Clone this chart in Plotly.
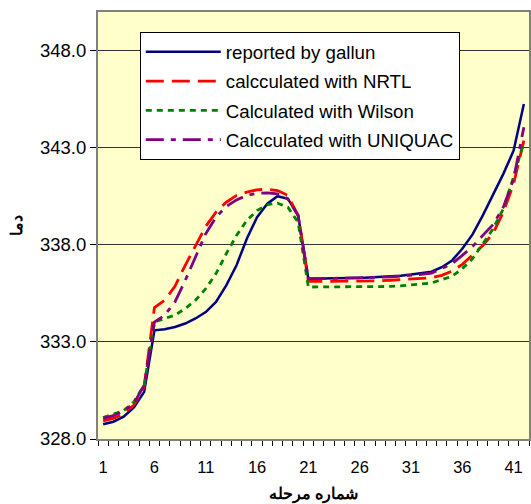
import plotly.graph_objects as go

stages = list(range(1, 43))

reported_gallun = [328.76, 328.89, 329.15, 329.63, 330.43, 333.60, 333.66, 333.77, 333.95, 334.21,
                   334.54, 335.06, 335.92, 336.95, 338.32, 339.43, 340.12, 340.51, 340.38, 339.52,
                   336.26, 336.26, 336.27, 336.28, 336.29, 336.30, 336.32, 336.34, 336.37, 336.41,
                   336.47, 336.55, 336.62, 336.85, 337.20, 337.80, 338.54, 339.52, 340.55, 341.66,
                   342.86, 345.26]

nrtl = [328.94, 329.06, 329.29, 329.75, 330.69, 334.77, 335.15, 335.87, 336.95, 337.97,
        338.95, 339.69, 340.20, 340.55, 340.72, 340.84, 340.87, 340.80, 340.55, 339.52,
        336.12, 336.12, 336.12, 336.13, 336.13, 336.14, 336.14, 336.15, 336.18, 336.21,
        336.24, 336.27, 336.31, 336.43, 336.65, 337.00, 337.46, 337.97, 338.60, 339.69,
        341.15, 343.37]

wilson = [329.11, 329.27, 329.46, 329.92, 330.78, 334.03, 334.21, 334.38, 334.72, 335.15,
          335.75, 336.52, 337.55, 338.49, 339.26, 339.77, 340.07, 340.15, 339.94, 339.17,
          335.83, 335.83, 335.83, 335.83, 335.83, 335.84, 335.84, 335.84, 335.86, 335.89,
          335.93, 335.98, 336.04, 336.21, 336.38, 336.78, 337.29, 338.06, 338.83, 339.86,
          341.50, 343.30]

uniquac = [329.06, 329.20, 329.44, 329.83, 330.78, 334.03, 334.38, 335.06, 336.17, 337.37,
           338.58, 339.43, 339.98, 340.32, 340.55, 340.66, 340.68, 340.63, 340.38, 339.52,
           336.26, 336.26, 336.27, 336.27, 336.28, 336.29, 336.30, 336.32, 336.35, 336.39,
           336.43, 336.48, 336.55, 336.78, 337.03, 337.46, 337.92, 338.49, 339.05, 339.94,
           341.40, 344.06]

y_ticks = [328.0, 333.0, 338.0, 343.0, 348.0]
x_ticks = [1, 6, 11, 16, 21, 26, 31, 36, 41]

series = [
    ("reported by gallun", reported_gallun, "#000080", "solid", 2.5),
    ("calcculated with NRTL", nrtl, "#FF0000", "18px,8px", 2.8),
    ("Calculated with Wilson", wilson, "#008000", "6px,5px", 2.8),
    ("Calcculated with UNIQUAC", uniquac, "#800080", "18px,7px,5px,7px", 2.8),
]

fig = go.Figure()
for i, (name, vals, color, dash, w) in enumerate(series):
    fig.add_trace(go.Scatter(
        x=stages, y=vals, mode="lines", name=name,
        line=dict(color=color, dash=dash, width=w),
        legendgroup=f"g{i}",
    ))

font_family = "Arial, Liberation Sans, sans-serif"

fig.update_layout(
    width=531, height=504,
    margin=dict(l=98, r=0, t=12, b=65),
    paper_bgcolor="white",
    plot_bgcolor="#FFFFCC",
    font=dict(family=font_family, color="black"),
    showlegend=True,
    legend=dict(
        x=0.097, y=0.953, xanchor="left", yanchor="top",
        bgcolor="white", bordercolor="black", borderwidth=1,
        font=dict(size=18.7, family=font_family, color="black"),
        itemwidth=75, tracegroupgap=2,
    ),
)

fig.update_xaxes(
    range=[0.5, 42.5],
    tickmode="array", tickvals=x_ticks, ticktext=[str(v) for v in x_ticks],
    ticks="", tickfont=dict(size=16.5), ticklabelstandoff=12,
    showgrid=False, zeroline=False,
    showline=True, linecolor="#808080", linewidth=2, mirror=True,
    minor=dict(tick0=0.5, dtick=1, ticks="outside", ticklen=5, tickcolor="black", tickwidth=1, showgrid=False),
    title=dict(text="<b>شماره مرحله</b>", font=dict(size=16), standoff=14),
)

fig.update_yaxes(
    range=[328, 350],
    tickmode="array", tickvals=y_ticks, ticktext=[f"{v:.1f}" for v in y_ticks],
    ticks="outside", ticklen=6, tickcolor="black", tickwidth=1,
    tickfont=dict(size=18.5),
    showgrid=True, gridcolor="#333333", gridwidth=1,
    zeroline=False,
    showline=True, linecolor="#808080", linewidth=2, mirror=True,
    title=dict(text="<b>دما</b>", font=dict(size=16), standoff=13),
)

fig.write_html("out.html")
